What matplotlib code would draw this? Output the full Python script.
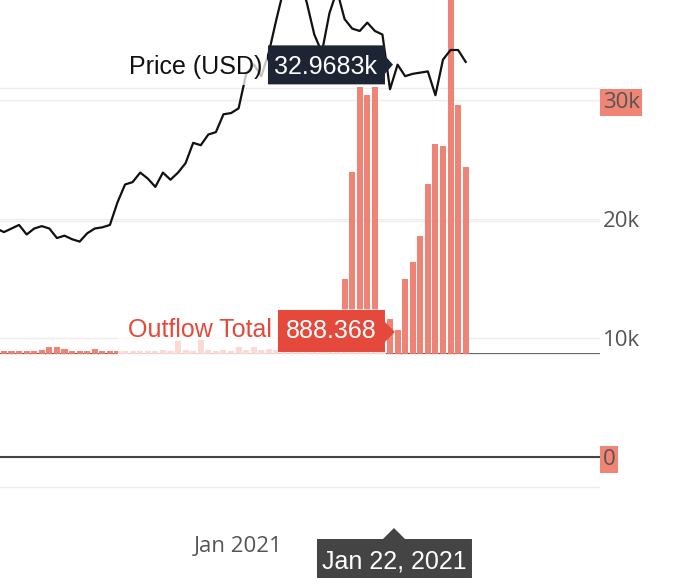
import matplotlib
matplotlib.use("Agg")
import matplotlib.pyplot as plt
import matplotlib.dates as mdates
import pandas as pd
from matplotlib.patches import Polygon
from matplotlib.transforms import IdentityTransform, blended_transform_factory

# daily values, Nov 30 2020 -> Jan 31 2021
DATES = pd.date_range("2020-11-30", "2021-01-31", freq="D")

PRICE_K = [
    19.2, 18.9, 19.2, 19.5, 18.7, 19.2, 19.4, 19.2, 18.4, 18.6,
    18.3, 18.1, 18.8, 19.2, 19.3, 19.5, 21.4, 22.9, 23.1, 23.9,
    23.4, 22.7, 23.9, 23.3, 23.9, 24.7, 26.4, 26.2, 27.1, 27.3,
    28.8, 28.9, 29.3, 32.2, 33.0, 32.0, 34.0, 36.8, 39.4, 40.6,
    40.2, 38.2, 35.5, 34.0, 37.3, 39.2, 36.8, 36.0, 35.8, 36.5,
    35.8, 35.5, 30.9, 32.9683, 32.0, 32.2, 32.3, 32.4, 30.4, 33.4,
    34.2, 34.2, 33.2,
]

OUTFLOW = [
    130, 120, 120, 110, 120, 130, 150, 250, 250, 180,
    130, 120, 130, 190, 130, 120, 110, 130, 120, 110,
    120, 130, 150, 130, 500, 140, 130, 520, 150, 130,
    140, 130, 250, 150, 260, 150, 170, 160, 200, 180,
    170, 220, 200, 180, 190, 300, 2820, 6840, 10040, 9740,
    10040, 900, 1320, 888.368, 2820, 3460, 4440, 6390, 7900, 7820,
    15500, 9360, 7030,
]

PRICE_TICKS = [0, 10000, 20000, 30000]
PRICE_TICK_LABELS = ["0", "10k", "20k", "30k"]
HIGHLIGHT_TICKS = ["0", "30k"]
OUTFLOW_GRID = [-5000, 0, 5000, 10000]

HOVER_DATE = "2021-01-22"
HOVER_DATE_TEXT = "Jan 22, 2021"
PRICE_NAME = "Price (USD)"
PRICE_TEXT = "32.9683k"
OUTFLOW_NAME = "Outflow Total"
OUTFLOW_TEXT = "888.368"

BAR_COLOR = "#ee7a6a"
RED = "#e4493b"
NAVY = "#1d2433"
GRID = "#ececec"
ZERO = "#444444"
TICK = "#555555"


def add_shape(ax, anchor, offsets, **kw):
    """Polygon drawn in pixel offsets (dy downwards) from an anchor in display px."""
    x0, y0 = anchor
    verts = [(x0 + dx, y0 - dy) for dx, dy in offsets]
    ax.add_patch(Polygon(verts, closed=True, transform=IdentityTransform(),
                         clip_on=False, **kw))


def add_label(ax, anchor, dx, dy, text, **kw):
    x0, y0 = anchor
    ax.text(x0 + dx, y0 - dy, text, transform=IdentityTransform(),
            clip_on=False, **kw)


fig = plt.figure(figsize=(6.8, 5.84), dpi=100)
fig.patch.set_facecolor("white")

ax_out = fig.add_axes([0, 79 / 584, 600 / 680, 505 / 584])
ax_price = ax_out.twinx()
ax_out.set_zorder(2)
ax_out.patch.set_visible(False)

x = mdates.date2num(DATES)
jan1 = mdates.date2num(pd.Timestamp("2021-01-01"))
ax_out.set_xlim(jan1 - 31.52, jan1 + 47.74)
ax_out.set_ylim(-5677, 13308)
ax_price.set_ylim(-4034, 38403)

# price axis: grid, zero line, right tick labels
ax_price.set_yticks(PRICE_TICKS)
ax_price.set_yticklabels(PRICE_TICK_LABELS)
ax_price.grid(axis="y", color=GRID, lw=1)
ax_price.axhline(0, color=ZERO, lw=1.5)
ax_price.tick_params(axis="y", length=0, pad=2, labelsize=16, labelcolor=TICK)
for lbl in ax_price.get_yticklabels():
    lbl.set_fontfamily("Open Sans")
    if lbl.get_text() in HIGHLIGHT_TICKS:
        lbl.set_bbox(dict(boxstyle="square,pad=0.12", fc="#f08575", ec="none"))

# outflow axis: grid + zero line, no labels
ax_out.set_yticks(OUTFLOW_GRID)
ax_out.set_axisbelow(True)
ax_out.grid(axis="y", color=GRID, lw=1)
ax_out.axhline(0, color=ZERO, lw=1.4, zorder=0.5)
ax_out.tick_params(axis="y", length=0, labelleft=False, labelright=False)

for a in (ax_out, ax_price):
    for s in a.spines.values():
        s.set_visible(False)

ax_out.xaxis.set_major_locator(mdates.MonthLocator(bymonth=[1, 3, 5, 7, 9, 11]))
ax_out.xaxis.set_major_formatter(mdates.DateFormatter("%b %Y"))
ax_out.tick_params(axis="x", length=0, pad=22, labelsize=16, labelcolor=TICK)
for lbl in ax_out.get_xticklabels():
    lbl.set_fontfamily("Open Sans")

ax_out.bar(x, OUTFLOW, width=0.8, color=BAR_COLOR, alpha=0.92, zorder=1)

line_tf = blended_transform_factory(ax_out.transData, ax_price.transData)
ax_out.plot(x, [p * 1000 for p in PRICE_K], color="#111111", lw=1.6,
            transform=line_tf, zorder=3)

# hover labels anchored at the hovered day
hx = mdates.date2num(pd.Timestamp(HOVER_DATE))
idx = list(DATES).index(pd.Timestamp(HOVER_DATE))
p_anchor = ax_price.transData.transform((hx, PRICE_K[idx] * 1000))
o_anchor = ax_out.transData.transform((hx, OUTFLOW[idx]))
d_anchor = blended_transform_factory(ax_out.transData, ax_out.transAxes).transform((hx, 0))

hover_font = dict(family="Liberation Sans", size=18)

# price
add_shape(ax_out, p_anchor, [(-277.6, -19.3), (-130.6, -19.3), (-130.6, 20.7), (-277.6, 20.7)],
          fc="white", ec="none", alpha=0.75, zorder=4)
add_shape(ax_out, p_anchor, [(-129.6, -19.3), (-12.6, -19.3), (-12.6, -9), (-4.6, 0),
                             (-12.6, 9), (-12.6, 19.7), (-129.6, 19.7)],
          fc=NAVY, ec="none", zorder=5)
add_label(ax_out, p_anchor, -20.6, 9.7, PRICE_TEXT, color="white", ha="right",
          va="baseline", zorder=6, **hover_font)
add_label(ax_out, p_anchor, -135.6, 9.7, PRICE_NAME, color="#111111", ha="right",
          va="baseline", zorder=6, **hover_font)

# outflow
add_shape(ax_out, o_anchor, [(-279.6, -21.4), (-11.6, -21.4), (-11.6, 26.6), (-279.6, 26.6)],
          fc="white", ec="none", alpha=0.7, zorder=4)
add_shape(ax_out, o_anchor, [(-119.6, -20.4), (-12.6, -20.4), (-12.6, -8.4), (-2.6, 1.6),
                             (-12.6, 11.6), (-12.6, 21.6), (-119.6, 21.6)],
          fc=RED, ec="none", zorder=5)
add_label(ax_out, o_anchor, -20.6, 7.6, OUTFLOW_TEXT, color="white", ha="right",
          va="baseline", zorder=6, **hover_font)
add_label(ax_out, o_anchor, -125.6, 6.6, OUTFLOW_NAME, color=RED, ha="right",
          va="baseline", zorder=6, **hover_font)

# x hover label
add_shape(ax_out, d_anchor, [(-80.6, 34), (-14.6, 34), (-3.6, 23), (7.4, 34),
                             (74.4, 34), (74.4, 73), (-80.6, 73)],
          fc="#444444", ec="none", zorder=5)
add_label(ax_out, d_anchor, -3.1, 63, HOVER_DATE_TEXT, color="white", ha="center",
          va="baseline", zorder=6, **hover_font)

fig.savefig("out.png", dpi=100)
